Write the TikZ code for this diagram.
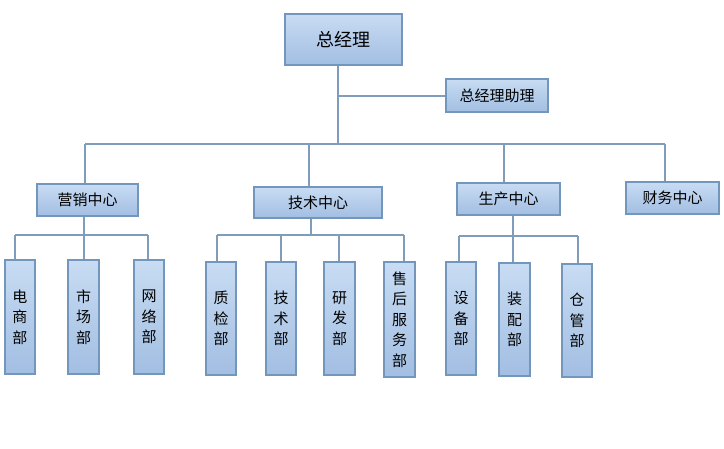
\documentclass[tikz,border=0pt]{standalone}
\usepackage{fontspec}
\newfontfamily\cjk{Noto Sans CJK SC}
\definecolor{lineblue}{HTML}{7F9CBA}
\definecolor{boxborder}{HTML}{7296BC}
\definecolor{boxtop}{HTML}{C8DCF3}
\definecolor{boxbot}{HTML}{A2BEE2}
\tikzset{
  orgbox/.style={draw=boxborder, line width=1.8pt, top color=boxtop, bottom color=boxbot,
    inner sep=0pt, font=\cjk\fontsize{15}{20.5}\selectfont, align=center},
  conn/.style={draw=lineblue, line width=1.8pt},
}
\begin{document}
\begin{tikzpicture}[x=1pt,y=-1pt]
\useasboundingbox (0,0) rectangle (724,449);
% top level
\node[orgbox, minimum width=117, minimum height=51, font=\cjk\fontsize{18}{20}\selectfont] (gm) at (343.5,39.5) {总经理};
\node[orgbox, minimum width=102, minimum height=33] (asst) at (497,95.5) {总经理助理};
% centers
\node[orgbox, minimum width=101, minimum height=32] (yx) at (87.5,200) {营销中心};
\node[orgbox, minimum width=128, minimum height=31] (js) at (318,202.5) {技术中心};
\node[orgbox, minimum width=103, minimum height=32] (sc) at (508.5,199) {生产中心};
\node[orgbox, minimum width=93, minimum height=32] (cw) at (672.5,198) {财务中心};
% departments
\node[orgbox, minimum width=30, minimum height=114] (ds) at (20,317) {电\\商\\部};
\node[orgbox, minimum width=31, minimum height=114] (scb) at (83.5,317) {市\\场\\部};
\node[orgbox, minimum width=30, minimum height=114] (wl) at (149,317) {网\\络\\部};
\node[orgbox, minimum width=30, minimum height=113] (zj) at (221,318.5) {质\\检\\部};
\node[orgbox, minimum width=30, minimum height=113] (jsb) at (281,318.5) {技\\术\\部};
\node[orgbox, minimum width=31, minimum height=113] (yf) at (339.5,318.5) {研\\发\\部};
\node[orgbox, minimum width=31, minimum height=115] (sh) at (399.5,319.5) {售\\后\\服\\务\\部};
\node[orgbox, minimum width=30, minimum height=113] (sb) at (461,318.5) {设\\备\\部};
\node[orgbox, minimum width=31, minimum height=113] (zp) at (514.5,319.5) {装\\配\\部};
\node[orgbox, minimum width=30, minimum height=113] (cg) at (577,320.5) {仓\\管\\部};
% bus coordinates
\coordinate (gmx) at (338,144);
\coordinate (asx) at (338,96);
\coordinate (b1) at (85,144);
\coordinate (b2) at (309,144);
\coordinate (b3) at (504,144);
\coordinate (b4) at (665,144);
\begin{scope}[on background layer/.try]
\path[conn] (gmx |- gm.south) -- (gmx);
\path[conn] (asx) -- (asx -| asst.west);
\path[conn] (b1) -- (b4);
\path[conn] (b1) -- (b1 |- yx.north);
\path[conn] (b2) -- (b2 |- js.north);
\path[conn] (b3) -- (b3 |- sc.north);
\path[conn] (b4) -- (b4 |- cw.north);
% marketing
\coordinate (y0) at (84,235);
\coordinate (y1) at (15,235);
\coordinate (y3) at (148,235);
\path[conn] (y0 |- yx.south) -- (y0);
\path[conn] (y1) -- (y3);
\path[conn] (y1) -- (y1 |- ds.north);
\path[conn] (y0) -- (y0 |- scb.north);
\path[conn] (y3) -- (y3 |- wl.north);
% tech
\coordinate (t0) at (311,235);
\coordinate (t1) at (217,235);
\coordinate (t2) at (281,235);
\coordinate (t3) at (339,235);
\coordinate (t4) at (404,235);
\path[conn] (t0 |- js.south) -- (t0);
\path[conn] (t1) -- (t4);
\path[conn] (t1) -- (t1 |- zj.north);
\path[conn] (t2) -- (t2 |- jsb.north);
\path[conn] (t3) -- (t3 |- yf.north);
\path[conn] (t4) -- (t4 |- sh.north);
% production
\coordinate (p1) at (459,236);
\coordinate (p2) at (513,236);
\coordinate (p3) at (578,236);
\path[conn] (p2 |- sc.south) -- (p2);
\path[conn] (p1) -- (p3);
\path[conn] (p1) -- (p1 |- sb.north);
\path[conn] (p2) -- (p2 |- zp.north);
\path[conn] (p3) -- (p3 |- cg.north);
\end{scope}
\end{tikzpicture}
\end{document}
